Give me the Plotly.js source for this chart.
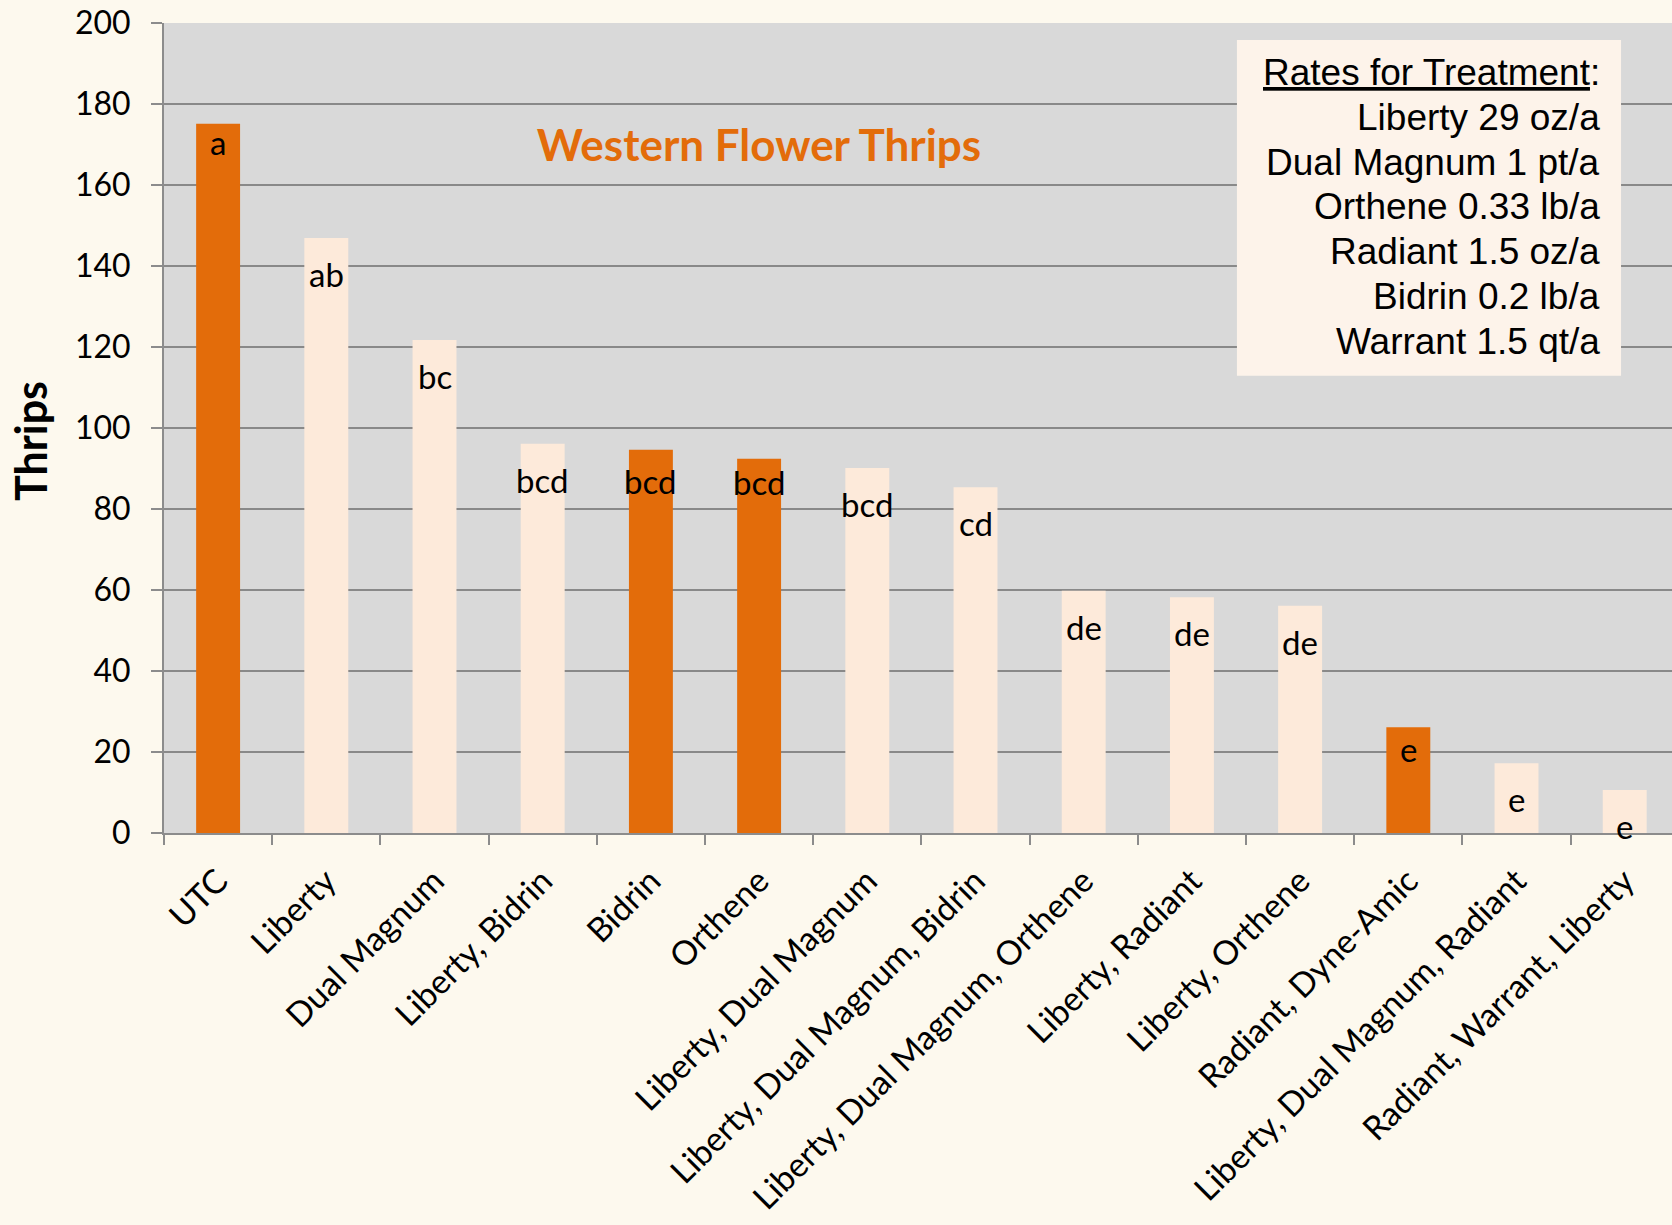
<!DOCTYPE html>
<html>
<head>
<meta charset="utf-8">
<script src="https://cdn.plot.ly/plotly-3.0.1.min.js"></script>
<style>html,body{margin:0;padding:0;overflow:hidden;background:#FDF9EE;}</style>
</head>
<body>
<div id="chart" style="width:1672px;height:1225px;"></div>
<script>
// ---- data ----
const categories = [
  'UTC', 'Liberty', 'Dual Magnum', 'Liberty, Bidrin', 'Bidrin', 'Orthene',
  'Liberty, Dual Magnum', 'Liberty, Dual Magnum, Bidrin', 'Liberty, Dual Magnum, Orthene',
  'Liberty, Radiant', 'Liberty, Orthene', 'Radiant, Dyne-Amic',
  'Liberty, Dual Magnum, Radiant', 'Radiant, Warrant, Liberty'
];
const thrips = [175.1, 146.9, 121.7, 96.1, 94.6, 92.4, 90.1, 85.4, 59.8, 58.2, 56.1, 26.1, 17.2, 10.6];
const letters = ['a', 'ab', 'bc', 'bcd', 'bcd', 'bcd', 'bcd', 'cd', 'de', 'de', 'de', 'e', 'e', 'e'];
const ratesTitle = 'Rates for Treatment';
const rateLines = ['Liberty 29 oz/a', 'Dual Magnum 1 pt/a', 'Orthene 0.33 lb/a',
                   'Radiant 1.5 oz/a', 'Bidrin 0.2 lb/a', 'Warrant 1.5 qt/a'];
const chartTitle = 'Western Flower Thrips';
const yTitle = 'Thrips';

// ---- style ----
const ORANGE = '#E36C0A', LIGHT = '#FDEADA';
const orangeIdx = [0, 4, 5, 11];
const barColors = categories.map((c, i) => orangeIdx.includes(i) ? ORANGE : LIGHT);
const labelDrop = [18, 36, 36, 36, 31, 23, 36, 36, 36, 36, 36, 22, 36, 36];
const FONT = 'Lato, "Open Sans", sans-serif';
const AX = '#8C8C8C';

const trace = {
  type: 'bar', x: categories, y: thrips,
  marker: {color: barColors, line: {width: 0}},
  hoverinfo: 'x+y'
};

const annotations = categories.map((c, i) => ({
  x: c, y: thrips[i], xref: 'x', yref: 'y', text: letters[i], showarrow: false,
  yanchor: 'middle', yshift: -labelDrop[i],
  font: {family: FONT, size: 33, color: '#000'}
}));

// y-axis title (placed to match the original position)
annotations.push({
  xref: 'paper', yref: 'paper', x: (30 - 164) / 1508, y: (833 - 441) / 810,
  xanchor: 'center', yanchor: 'middle', textangle: -90, showarrow: false,
  text: '<b>' + yTitle + '</b>', font: {family: FONT, size: 43, color: '#000'}
});

// legend box text lines
const plotTop = 23, plotH = 810;
const legLines = ['<u>' + ratesTitle + '</u>:'].concat(rateLines);
const legFs = 37;
legLines.forEach((t, i) => {
  const base = 85 + i * 44.8;
  const py = base - 0.34 * legFs;
  annotations.push({
    xref: 'paper', yref: 'paper', x: (1602 - 164) / 1508, y: 1 - (py - plotTop) / plotH,
    xanchor: 'right', yanchor: 'middle', text: t, showarrow: false,
    font: {family: 'Arial, "Liberation Sans", sans-serif', size: legFs, color: '#000'}
  });
});

const layout = {
  width: 1672, height: 1225,
  margin: {l: 164, r: 0, t: 23, b: 392, pad: 0},
  paper_bgcolor: '#FDF9EE', plot_bgcolor: '#D9D9D9',
  showlegend: false,
  bargap: 0.594,
  title: {
    text: '<b>' + chartTitle + '</b>', x: 759 / 1672, y: 1 - 146 / 1225,
    xanchor: 'center', yanchor: 'middle', xref: 'container', yref: 'container',
    font: {family: FONT, size: 44, color: ORANGE}
  },
  xaxis: {
    type: 'category', range: [-0.5, 13.437], tickson: 'boundaries',
    ticks: 'outside', ticklen: 10, tickwidth: 2, tickcolor: AX,
    showline: true, linecolor: AX, linewidth: 2, showgrid: false,
    tickangle: -45, tickfont: {family: FONT, size: 33.5, color: '#000'},
    ticklabelstandoff: 13,
    fixedrange: true
  },
  yaxis: {
    range: [0, 200], dtick: 20, tick0: 0,
    showgrid: true, gridcolor: '#898989', gridwidth: 2,
    ticks: 'outside', ticklen: 11, tickwidth: 2, tickcolor: AX,
    showline: true, linecolor: AX, linewidth: 2, zeroline: false,
    tickfont: {family: FONT, size: 32, color: '#000'},
    ticklabelstandoff: 14,
    fixedrange: true
  },
  shapes: [{
    type: 'rect', xref: 'paper', yref: 'paper',
    x0: 0.7115, x1: 0.9662, y0: 0.5646, y1: 0.979,
    fillcolor: '#FDF3EA', line: {width: 0}, layer: 'above'
  }],
  annotations: annotations
};

Plotly.newPlot('chart', [trace], layout, {displayModeBar: false, staticPlot: true});
</script>
</body>
</html>
